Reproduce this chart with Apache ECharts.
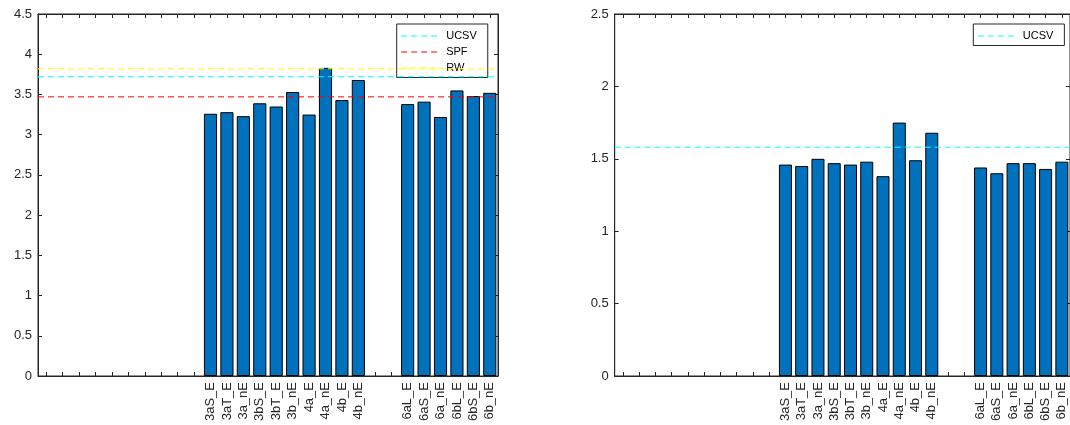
<!DOCTYPE html>
<html>
<head>
<meta charset="utf-8">
<script src="https://cdn.jsdelivr.net/npm/echarts@6/dist/echarts.min.js"></script>
<style>
  html, body { margin: 0; padding: 0; background: #fff; }
  #chart { width: 1070px; height: 425px; }
</style>
</head>
<body>
<div id="chart"></div>
<script>
// Model labels along the x axis (the first ten slots and two spacer slots are unlabelled)
const categories = [
  '', '', '', '', '', '', '', '', '', '',
  '3aS_E', '3aT_E', '3a_nE', '3bS_E', '3bT_E', '3b_nE', '4a_E', '4a_nE', '4b_E', '4b_nE',
  '', '',
  '6aL_E', '6aS_E', '6a_nE', '6bL_E', '6bS_E', '6b_nE'
];

// Left panel: bar heights per model
const leftValues = [
  null, null, null, null, null, null, null, null, null, null,
  3.26, 3.28, 3.23, 3.39, 3.35, 3.53, 3.25, 3.83, 3.43, 3.68,
  null, null,
  3.38, 3.41, 3.22, 3.55, 3.48, 3.52
];

// Right panel: bar heights per model
const rightValues = [
  null, null, null, null, null, null, null, null, null, null,
  1.46, 1.45, 1.50, 1.47, 1.46, 1.48, 1.38, 1.75, 1.49, 1.68,
  null, null,
  1.44, 1.40, 1.47, 1.47, 1.43, 1.48
];

// Benchmark levels drawn as dashed horizontal lines
const leftBenchNames = ['UCSV', 'SPF', 'RW'];
const leftBenchValues = [3.72, 3.47, 3.82];
const rightBenchNames = ['UCSV'];
const rightBenchValues = [1.58];
const benchColors = { UCSV: '#00FFFF', SPF: '#FF0000', RW: '#FFFF00' };

// Y axis ranges and tick spacing
const leftYMax = 4.5, rightYMax = 2.5, yStep = 0.5;

const FONT = "'Liberation Sans', Arial, Helvetica, sans-serif";
const AXIS_COLOR = '#262626';
const N = categories.length;

// Three x axes per grid: labelled category axis (bottom), tick-only category axis (top),
// and a hidden value axis spanning the same band range for the benchmark lines.
function xAxesFor(gridIndex) {
  const base = {
    type: 'category',
    gridIndex: gridIndex,
    data: categories,
    boundaryGap: true,
    axisLine: { show: true, onZero: false, lineStyle: { color: AXIS_COLOR, width: 1 } },
    axisTick: { show: true, inside: true, alignWithLabel: true, interval: 0, length: 4,
                lineStyle: { color: AXIS_COLOR, width: 1 } },
    splitLine: { show: false }
  };
  return [
    Object.assign({}, base, {
      position: 'bottom',
      axisLabel: { show: true, rotate: 90, interval: 0, margin: 6, fontSize: 13,
                   color: AXIS_COLOR, fontFamily: FONT }
    }),
    Object.assign({}, base, { position: 'top', axisLabel: { show: false } }),
    {
      type: 'value', gridIndex: gridIndex, min: -0.5, max: N - 0.5, show: false,
      splitLine: { show: false }
    }
  ];
}

function yAxesFor(gridIndex, max) {
  const base = {
    type: 'value',
    gridIndex: gridIndex,
    min: 0,
    max: max,
    interval: yStep,
    axisLine: { show: true, onZero: false, lineStyle: { color: AXIS_COLOR, width: 1 } },
    axisTick: { show: true, inside: true, length: 4, lineStyle: { color: AXIS_COLOR, width: 1 } },
    splitLine: { show: false }
  };
  return [
    Object.assign({}, base, {
      position: 'left',
      axisLabel: { show: true, margin: 6, fontSize: 13, color: AXIS_COLOR, fontFamily: FONT }
    }),
    Object.assign({}, base, { position: 'right', axisLabel: { show: false } })
  ];
}

function barSeries(xIdx, yIdx, values) {
  return {
    type: 'bar',
    xAxisIndex: xIdx,
    yAxisIndex: yIdx,
    data: values,
    barWidth: '80%',
    color: '#0072BD',
    itemStyle: { color: '#0072BD', borderColor: '#000000', borderWidth: 1 },
    silent: true,
    z: 2
  };
}

function benchSeries(xIdx, yIdx, name, value) {
  const c = benchColors[name];
  return {
    type: 'line',
    name: name,
    xAxisIndex: xIdx,
    yAxisIndex: yIdx,
    data: [[-0.5, value], [N - 0.5, value]],
    color: c,
    symbol: 'none',
    showSymbol: false,
    lineStyle: { color: c, width: 1, type: [6, 4] },
    itemStyle: { color: c },
    emphasis: { disabled: true },
    silent: true,
    z: 5
  };
}

function legendBox(left, names) {
  return {
    left: left,
    top: 24,
    orient: 'vertical',
    data: names,
    itemWidth: 40,
    itemHeight: 12,
    itemGap: 5,
    itemTextGap: 5,
    padding: [6.5, 11, 4, 4],
    borderColor: AXIS_COLOR,
    borderWidth: 1,
    borderRadius: 0,
    backgroundColor: '#ffffff',
    selectedMode: false,
    itemStyle: { opacity: 0 },
    lineStyle: { width: 1 },
    textStyle: { fontSize: 11, color: '#000000', fontFamily: FONT }
  };
}

const xL = xAxesFor(0), xR = xAxesFor(1);
const yL = yAxesFor(0, leftYMax), yR = yAxesFor(1, rightYMax);
// x axis indices: 0-2 left grid, 3-5 right grid; y axis indices: 0-1 left, 2-3 right

const series = [barSeries(0, 0, leftValues)];
leftBenchNames.forEach(function (n, i) { series.push(benchSeries(2, 0, n, leftBenchValues[i])); });
series.push(barSeries(3, 2, rightValues));
rightBenchNames.forEach(function (n, i) { series.push(benchSeries(5, 2, n, rightBenchValues[i])); });

const chart = echarts.init(document.getElementById('chart'), null, { renderer: 'canvas' });
chart.setOption({
  animation: false,
  backgroundColor: '#ffffff',
  grid: [
    { left: 38, top: 14, width: 460, height: 362, containLabel: false,
      show: true, borderColor: AXIS_COLOR, borderWidth: 1, backgroundColor: 'transparent' },
    { left: 614.7, top: 14, width: 459.6, height: 362, containLabel: false,
      show: true, borderColor: AXIS_COLOR, borderWidth: 1, backgroundColor: 'transparent' }
  ],
  xAxis: xL.concat(xR),
  yAxis: yL.concat(yR),
  legend: [legendBox(396.7, leftBenchNames), legendBox(973.3, rightBenchNames)],
  series: series
});
</script>
</body>
</html>
